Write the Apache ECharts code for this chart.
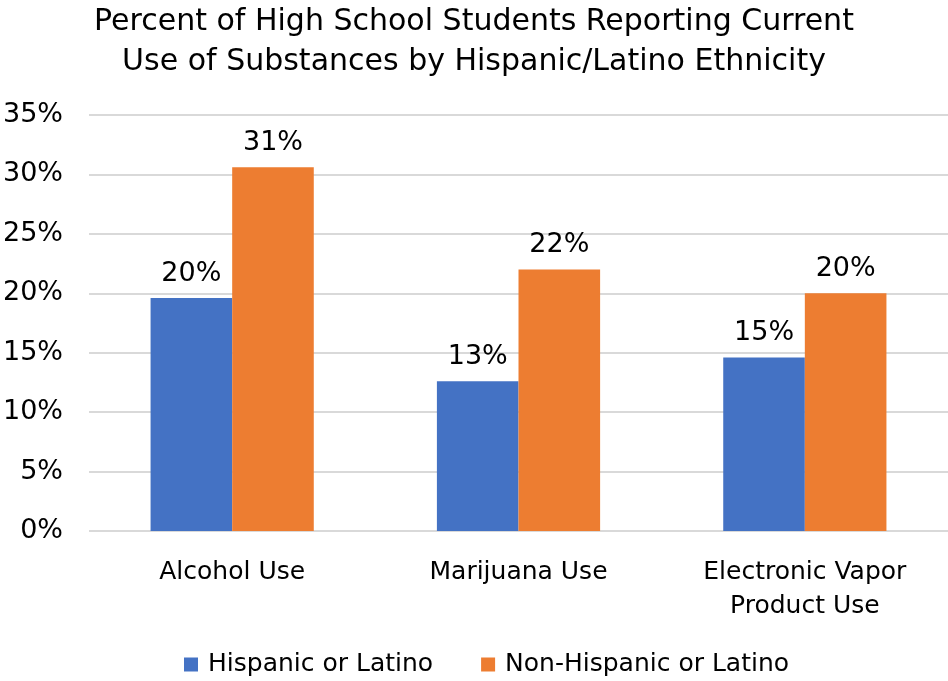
<!DOCTYPE html>
<html>
<head>
<meta charset="utf-8">
<script src="https://cdn.jsdelivr.net/npm/echarts@6/dist/echarts.min.js"></script>
<style>html,body{margin:0;padding:0;background:#fff;}#c{width:948px;height:681px;}</style>
</head>
<body>
<div id="c"></div>
<script>
var categories = ['Alcohol Use', 'Marijuana Use', 'Electronic Vapor\nProduct Use'];
var seriesNames = ['Hispanic or Latino', 'Non-Hispanic or Latino'];
var hispanic = [19.6, 12.6, 14.6];
var nonHispanic = [30.6, 22.0, 20.0];
var yTicks = [0, 5, 10, 15, 20, 25, 30, 35];

var FONT = 'DejaVu Sans';
var chart = echarts.init(document.getElementById('c'));
function lbl() {
  return {show: true, position: 'top', distance: 11, color: '#000', fontSize: 27, fontFamily: FONT,
    formatter: function (p) { return Math.round(p.value) + '%'; }};
}
chart.setOption({
  animation: false,
  title: {
    text: 'Percent of High School Students Reporting Current\nUse of Substances by Hispanic/Latino Ethnicity',
    left: 'center', top: -3,
    textStyle: {fontFamily: FONT, fontSize: 30, fontWeight: 'normal', color: '#000', lineHeight: 40}
  },
  legend: {
    bottom: -1, left: 179, itemWidth: 14, itemHeight: 14, itemGap: 48,
    icon: 'rect',
    textStyle: {fontFamily: FONT, fontSize: 25, color: '#000', padding: [0, 0, 0, 5]},
    data: seriesNames
  },
  grid: {left: 88, right: 0, top: 115, bottom: 150, containLabel: false},
  xAxis: {
    type: 'category', data: categories,
    axisLine: {show: false}, axisTick: {show: false},
    axisLabel: {fontFamily: FONT, fontSize: 25, color: '#000', margin: 24, lineHeight: 34}
  },
  yAxis: {
    type: 'value', min: yTicks[0], max: yTicks[yTicks.length - 1], interval: 5,
    axisLine: {show: false}, axisTick: {show: false},
    axisLabel: {fontFamily: FONT, fontSize: 27, color: '#000', margin: 26, formatter: '{value}%'},
    splitLine: {lineStyle: {color: '#d9d9d9', width: 2}}
  },
  series: [
    {name: seriesNames[0], type: 'bar', data: hispanic, barGap: '0%', barCategoryGap: '43%',
      itemStyle: {color: '#4472c4'}, label: lbl()},
    {name: seriesNames[1], type: 'bar', data: nonHispanic,
      itemStyle: {color: '#ed7d31'}, label: lbl()}
  ]
});
</script>
</body>
</html>
